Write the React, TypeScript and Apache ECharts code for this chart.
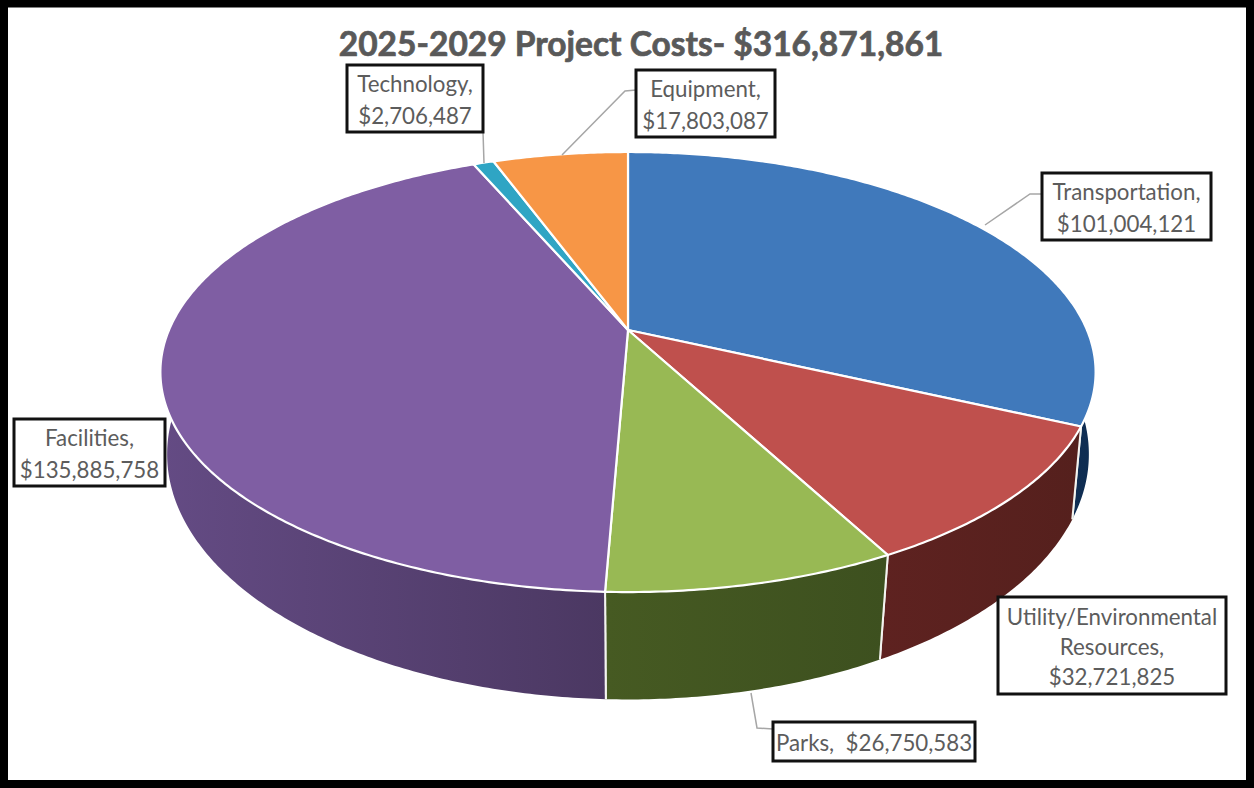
import React, { useEffect, useRef } from "react";
import * as echarts from "echarts";

const titleText = "2025-2029 Project Costs- $316,871,861";
const categories = ["Transportation", "Utility/Environmental Resources", "Parks", "Facilities", "Technology", "Equipment"];
const costs = [101004121, 32721825, 26750583, 135885758, 2706487, 17803087];
const topColors = ["#4079bb", "#bf504d", "#98b954", "#7f5ea3", "#2fa5c4", "#f79646"];
const wallColorsLeft = ["#14355c", "#5e2220", "#465a22", "#644b84", "#1f7080", "#a8622a"];
const wallColorsRight = ["#0f2d52", "#55201d", "#3d501f", "#4b3862", "#1f7080", "#a8622a"];
const labelLines = [
  ["Transportation,", "$101,004,121"],
  ["Utility/Environmental", "Resources,", "$32,721,825"],
  ["Parks,  $26,750,583"],
  ["Facilities,", "$135,885,758"],
  ["Technology,", "$2,706,487"],
  ["Equipment,", "$17,803,087"],
];
// label box: x, y, width, height
const labelBoxes = [
  [1042, 173, 169, 67],
  [998, 597, 228, 97],
  [773, 722, 202, 39],
  [14, 419, 151, 67],
  [347, 65, 136, 67],
  [636, 70, 139, 67],
];
const leaders: number[][][] = [
  [[1042, 194], [1030, 194], [985, 225]],
  [],
  [[773, 729], [757, 728], [751, 693]],
  [],
  [[483, 132], [484, 163]],
  [[636, 90], [625, 91], [562, 155]],
];

const total = costs.reduce((a, b) => a + b, 0);
const CX = 628;
const topDisc = { cy: 330, a: 459, b: 212, k: 0.191 };
const bottomDisc = { cy: 412, a: 454, b: 238, k: 0.172 };
const project = (d: typeof topDisc, ang: number) => {
  const u = Math.sin(ang);
  const v = -Math.cos(ang);
  const w = 1 - d.k * v;
  return [CX + (d.a * u) / w, d.cy + (d.b * v) / w];
};
const sliceAngles = (i: number) => {
  const before = costs.slice(0, i).reduce((a, b) => a + b, 0);
  return [(before / total) * Math.PI * 2, ((before + costs[i]) / total) * Math.PI * 2];
};
const arc = (d: typeof topDisc, a0: number, a1: number) => {
  const n = Math.max(2, Math.ceil((a1 - a0) / 0.01));
  const pts: number[][] = [];
  for (let j = 0; j <= n; j++) pts.push(project(d, a0 + ((a1 - a0) * j) / n));
  return pts;
};

const renderWall = (params: any) => {
  const i = params.dataIndex;
  const [a0, a1] = sliceAngles(i);
  const top = arc(topDisc, a0, a1);
  const bottom = arc(bottomDisc, a0, a1);
  const edge = (pts: number[][]) => ({
    type: "line",
    shape: { x1: pts[0][0], y1: pts[0][1], x2: pts[1][0], y2: pts[1][1] },
    style: { stroke: "#f4f4f0", lineWidth: 2 },
  });
  return {
    type: "group",
    children: [
      {
        type: "polygon",
        shape: { points: top.concat(bottom.slice().reverse()) },
        style: {
          fill: {
            type: "linear", x: 0, y: 0, x2: 1, y2: 0,
            colorStops: [
              { offset: 0, color: wallColorsLeft[i] },
              { offset: 1, color: wallColorsRight[i] },
            ],
          },
          stroke: "none",
        },
      },
      edge([top[0], bottom[0]]),
      edge([top[top.length - 1], bottom[bottom.length - 1]]),
    ],
  };
};

const renderTop = (params: any) => {
  const i = params.dataIndex;
  const [a0, a1] = sliceAngles(i);
  return {
    type: "polygon",
    shape: { points: [[CX, topDisc.cy]].concat(arc(topDisc, a0, a1)) },
    style: { fill: topColors[i], stroke: "#ffffff", lineWidth: 2.2, lineJoin: "round" },
  };
};

const seriesData = categories.map((name, i) => ({ name, value: costs[i] }));
const FONT = "Lato";

const buildLabels = () => {
  const out: any[] = [];
  labelBoxes.forEach(([x, y, w, h], i) => {
    if (leaders[i].length) {
      out.push({
        type: "polyline",
        z: 5,
        shape: { points: leaders[i] },
        style: { stroke: "#a6a6a6", lineWidth: 1.5, fill: "none" },
      });
    }
    out.push({
      type: "rect",
      z: 6,
      shape: { x, y, width: w, height: h },
      style: { fill: "#ffffff", stroke: "#111111", lineWidth: 3 },
    });
    out.push({
      type: "text",
      z: 7,
      x: x + w / 2,
      y: y + h / 2 + 1,
      style: {
        text: labelLines[i].join("\n"),
        font: `22.3px ${FONT}`,
        fill: "#5c5c5c",
        align: "center",
        verticalAlign: "middle",
        lineHeight: labelLines[i].length === 3 ? 30 : 32,
      },
    });
  });
  return out;
};

export default function App() {
  const ref = useRef<HTMLDivElement>(null);
  useEffect(() => {
    document.body.style.margin = "0";
    const chart = echarts.init(ref.current!, undefined, { renderer: "svg" });
    chart.setOption({
      animation: false,
      backgroundColor: "#ffffff",
      title: {
        text: titleText,
        left: 636,
        top: 21,
        textAlign: "center",
        textStyle: {
          fontFamily: FONT,
          fontWeight: "bold",
          fontSize: 33.5,
          color: "#595959",
          textBorderColor: "#595959",
          textBorderWidth: 0.7,
        },
      },
      series: [
        { type: "custom", name: "walls", coordinateSystem: "none", data: seriesData, renderItem: renderWall, silent: true, z: 1 },
        { type: "custom", name: "tops", coordinateSystem: "none", data: seriesData, renderItem: renderTop, silent: true, z: 2 },
      ],
      graphic: [
        {
          type: "rect",
          z: 10,
          shape: { x: 4, y: 3.5, width: 1246, height: 780.5 },
          style: { fill: "none", stroke: "#000000", lineWidth: 8 },
        },
        ...buildLabels(),
      ],
    });
    return () => chart.dispose();
  }, []);
  return <div ref={ref} style={{ position: "fixed", left: 0, top: 0, width: 1254, height: 788 }} />;
}
